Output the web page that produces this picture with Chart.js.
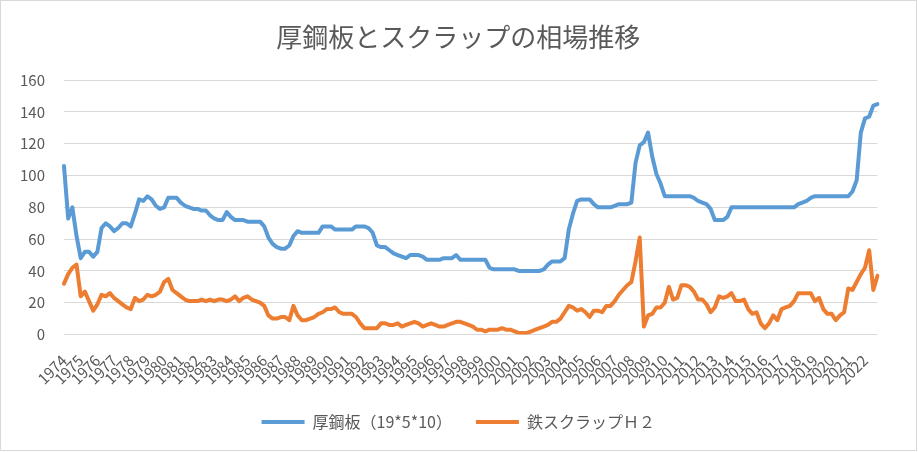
<!DOCTYPE html>
<html lang="ja">
<head>
<meta charset="utf-8">
<script src="https://cdn.jsdelivr.net/npm/chart.js@4.4.1/dist/chart.umd.min.js"></script>
<style>
  body { margin: 0; background: #fff; }
  #wrap { position: absolute; left: 0; top: 0; width: 915px; height: 449px; border: 1px solid #d9d9d9; }
</style>
</head>
<body>
<div id="wrap"><canvas id="chart"></canvas></div>
<script>
// 年ごとの目盛りラベル
const years = [1974, 1975, 1976, 1977, 1978, 1979, 1980, 1981, 1982, 1983,
  1984, 1985, 1986, 1987, 1988, 1989, 1990, 1991, 1992, 1993,
  1994, 1995, 1996, 1997, 1998, 1999, 2000, 2001, 2002, 2003,
  2004, 2005, 2006, 2007, 2008, 2009, 2010, 2011, 2012, 2013,
  2014, 2015, 2016, 2017, 2018, 2019, 2020, 2021, 2022];
const quarters = ['Q1', 'Q2', 'Q3', 'Q4'];

// 厚鋼板（19*5*10） 四半期ごと
const plateValues = [
  106, 73, 80, 62,   48, 52, 52, 49,   52, 67, 70, 68,   65, 67, 70, 70,   68, 76, 85, 84,
  87, 85, 81, 79,    80, 86, 86, 86,   83, 81, 80, 79,   79, 78, 78, 75,   73, 72, 72, 77,
  74, 72, 72, 72,    71, 71, 71, 71,   68, 61, 57, 55,   54, 54, 56, 62,   65, 64, 64, 64,
  64, 64, 68, 68,    68, 66, 66, 66,   66, 66, 68, 68,   68, 67, 64, 56,   55, 55, 53, 51,
  50, 49, 48, 50,    50, 50, 49, 47,   47, 47, 47, 48,   48, 48, 50, 47,   47, 47, 47, 47,
  47, 47, 42, 41,    41, 41, 41, 41,   41, 40, 40, 40,   40, 40, 40, 41,   44, 46, 46, 46,
  48, 66, 76, 84,    85, 85, 85, 82,   80, 80, 80, 80,   81, 82, 82, 82,   83, 108, 119, 121,
  127, 112, 101, 95, 87, 87, 87, 87,   87, 87, 87, 86,   84, 83, 82, 79,   72, 72, 72, 74,
  80, 80, 80, 80,    80, 80, 80, 80,   80, 80, 80, 80,   80, 80, 80, 80,   82, 83, 84, 86,
  87, 87, 87, 87,    87, 87, 87, 87,   87, 90, 97, 127,  136, 137, 144, 145
];

// 鉄スクラップＨ２ 四半期ごと
const scrapValues = [
  32, 38, 42, 44,    24, 27, 21, 15,   19, 25, 24, 26,   23, 21, 19, 17,   16, 23, 21, 22,
  25, 24, 25, 27,    33, 35, 28, 26,   24, 22, 21, 21,   21, 22, 21, 22,   21, 22, 22, 21,
  22, 24, 21, 23,    24, 22, 21, 20,   18, 12, 10, 10,   11, 11, 9, 18,    12, 9, 9, 10,
  11, 13, 14, 16,    16, 17, 14, 13,   13, 13, 11, 7,    4, 4, 4, 4,       7, 7, 6, 6,
  7, 5, 6, 7,        8, 7, 5, 6,       7, 6, 5, 5,       6, 7, 8, 8,       7, 6, 5, 3,
  3, 2, 3, 3,        3, 4, 3, 3,       2, 1, 1, 1,       2, 3, 4, 5,       6, 8, 8, 10,
  14, 18, 17, 15,    16, 14, 11, 15,   15, 14, 18, 18,   21, 25, 28, 31,   33, 46, 61, 5,
  12, 13, 17, 17,    20, 30, 22, 23,   31, 31, 30, 27,   22, 22, 19, 14,   17, 24, 23, 24,
  26, 21, 21, 22,    16, 13, 14, 7,    4, 7, 12, 9,      16, 17, 18, 21,   26, 26, 26, 26,
  21, 23, 16, 13,    13, 9, 12, 14,    29, 28, 33, 38,   42, 53, 28, 37
];

const labels = years.flatMap(y => quarters.map(q => y + q));
const textColor = '#595959';
const jpFont = '"Noto Sans CJK JP", "Noto Sans", sans-serif';

new Chart(document.getElementById('chart'), {
  type: 'line',
  data: {
    labels: labels,
    datasets: [{
      label: '厚鋼板（19*5*10）',
      data: plateValues,
      borderColor: '#5B9BD5',
      backgroundColor: '#5B9BD5',
      borderWidth: 4,
      borderCapStyle: 'round',
      borderJoinStyle: 'round',
      pointRadius: 0,
      pointStyle: 'line',
      tension: 0
    }, {
      label: '鉄スクラップＨ２',
      data: scrapValues,
      borderColor: '#ED7D31',
      backgroundColor: '#ED7D31',
      borderWidth: 4,
      borderCapStyle: 'round',
      borderJoinStyle: 'round',
      pointRadius: 0,
      pointStyle: 'line',
      tension: 0
    }]
  },
  options: {
    responsive: true,
    maintainAspectRatio: false,
    animation: false,
    layout: { padding: { left: 19, right: 19.5, top: 0, bottom: 10 } },
    plugins: {
      title: {
        display: true,
        text: '厚鋼板とスクラップの相場推移',
        color: textColor,
        font: { family: jpFont, size: 26, weight: 'normal' },
        padding: { top: 21, bottom: 27 }
      },
      legend: {
        position: 'bottom',
        labels: {
          color: textColor,
          font: { family: jpFont, size: 16 },
          usePointStyle: true,
          pointStyleWidth: 43,
          padding: 24
        }
      },
      tooltip: { enabled: false }
    },
    scales: {
      x: {
        grid: { display: false },
        border: { display: false },
        ticks: {
          autoSkip: false,
          minRotation: 45,
          maxRotation: 45,
          padding: 9,
          color: textColor,
          font: { family: jpFont, size: 15 },
          callback: function(value, index) {
            return index % 4 === 0 ? String(years[index / 4]) : null;
          }
        },
        afterFit: function(scale) {
          scale.height = 55.5;
          scale.paddingRight = 38.5;
        }
      },
      y: {
        min: 0,
        max: 160,
        grid: { color: '#d9d9d9', lineWidth: 1, drawTicks: false },
        border: { display: false },
        ticks: {
          stepSize: 20,
          padding: 19,
          color: textColor,
          font: { family: jpFont, size: 15 }
        },
        afterFit: function(scale) { scale.width = 44; }
      }
    }
  }
});
</script>
</body>
</html>
